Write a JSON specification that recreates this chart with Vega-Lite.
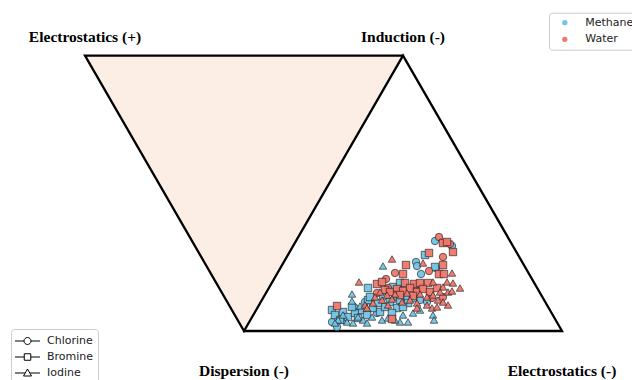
{
  "$schema": "https://vega.github.io/schema/vega-lite/v6.json",
  "width": 632,
  "height": 380,
  "autosize": {"type": "none"},
  "padding": 0,
  "background": "white",
  "config": {"view": {"stroke": null}},
  "datasets": {
    "vertices": [
      {"label": "Electrostatics (+)", "x": -0.5, "y": 0.866, "side": "top"},
      {"label": "Induction (-)", "x": 0.5, "y": 0.866, "side": "top"},
      {"label": "Dispersion (-)", "x": 0, "y": 0, "side": "bottom"},
      {"label": "Electrostatics (-)", "x": 1, "y": 0, "side": "bottom"}
    ],
    "outline": [
      {"step": 1, "x": 0.5, "y": 0.866},
      {"step": 2, "x": -0.5, "y": 0.866},
      {"step": 3, "x": 0, "y": 0},
      {"step": 4, "x": 0.5, "y": 0.866},
      {"step": 5, "x": 1, "y": 0},
      {"step": 6, "x": 0, "y": 0}
    ],
    "shade": [
      {"x": -0.5, "y": 0.866, "top": 0.866},
      {"x": 0, "y": 0, "top": 0.866},
      {"x": 0.5, "y": 0.866, "top": 0.866}
    ],
    "points": [
      {"solvent": "Methane", "halogen": "Chlorine", "x": 0.6006, "y": 0.2830},
      {"solvent": "Methane", "halogen": "Chlorine", "x": 0.6541, "y": 0.2673},
      {"solvent": "Methane", "halogen": "Chlorine", "x": 0.5409, "y": 0.2170},
      {"solvent": "Methane", "halogen": "Chlorine", "x": 0.5440, "y": 0.2044},
      {"solvent": "Methane", "halogen": "Chlorine", "x": 0.5566, "y": 0.1792},
      {"solvent": "Methane", "halogen": "Chlorine", "x": 0.6038, "y": 0.1981},
      {"solvent": "Methane", "halogen": "Chlorine", "x": 0.2767, "y": 0.0283},
      {"solvent": "Methane", "halogen": "Chlorine", "x": 0.2925, "y": 0.0126},
      {"solvent": "Methane", "halogen": "Chlorine", "x": 0.3491, "y": 0.0723},
      {"solvent": "Methane", "halogen": "Chlorine", "x": 0.4371, "y": 0.1069},
      {"solvent": "Methane", "halogen": "Chlorine", "x": 0.5126, "y": 0.1038},
      {"solvent": "Methane", "halogen": "Chlorine", "x": 0.4811, "y": 0.1069},
      {"solvent": "Methane", "halogen": "Chlorine", "x": 0.3176, "y": 0.0346},
      {"solvent": "Methane", "halogen": "Chlorine", "x": 0.4182, "y": 0.0566},
      {"solvent": "Methane", "halogen": "Chlorine", "x": 0.5535, "y": 0.0975},
      {"solvent": "Methane", "halogen": "Chlorine", "x": 0.5755, "y": 0.0912},
      {"solvent": "Methane", "halogen": "Chlorine", "x": 0.3805, "y": 0.0912},
      {"solvent": "Methane", "halogen": "Bromine", "x": 0.5692, "y": 0.2390},
      {"solvent": "Methane", "halogen": "Bromine", "x": 0.6006, "y": 0.2013},
      {"solvent": "Methane", "halogen": "Bromine", "x": 0.3899, "y": 0.1352},
      {"solvent": "Methane", "halogen": "Bromine", "x": 0.4686, "y": 0.1384},
      {"solvent": "Methane", "halogen": "Bromine", "x": 0.4906, "y": 0.1509},
      {"solvent": "Methane", "halogen": "Bromine", "x": 0.2767, "y": 0.0660},
      {"solvent": "Methane", "halogen": "Bromine", "x": 0.2862, "y": 0.0503},
      {"solvent": "Methane", "halogen": "Bromine", "x": 0.3113, "y": 0.0597},
      {"solvent": "Methane", "halogen": "Bromine", "x": 0.3270, "y": 0.0440},
      {"solvent": "Methane", "halogen": "Bromine", "x": 0.3491, "y": 0.0566},
      {"solvent": "Methane", "halogen": "Bromine", "x": 0.3585, "y": 0.0409},
      {"solvent": "Methane", "halogen": "Bromine", "x": 0.3711, "y": 0.0660},
      {"solvent": "Methane", "halogen": "Bromine", "x": 0.3899, "y": 0.0975},
      {"solvent": "Methane", "halogen": "Bromine", "x": 0.4057, "y": 0.0723},
      {"solvent": "Methane", "halogen": "Bromine", "x": 0.4277, "y": 0.0597},
      {"solvent": "Methane", "halogen": "Bromine", "x": 0.4434, "y": 0.0755},
      {"solvent": "Methane", "halogen": "Bromine", "x": 0.4591, "y": 0.0912},
      {"solvent": "Methane", "halogen": "Bromine", "x": 0.4811, "y": 0.0723},
      {"solvent": "Methane", "halogen": "Bromine", "x": 0.4906, "y": 0.0975},
      {"solvent": "Methane", "halogen": "Bromine", "x": 0.5157, "y": 0.0881},
      {"solvent": "Methane", "halogen": "Bromine", "x": 0.3868, "y": 0.0503},
      {"solvent": "Methane", "halogen": "Bromine", "x": 0.3962, "y": 0.1069},
      {"solvent": "Methane", "halogen": "Bromine", "x": 0.4214, "y": 0.0881},
      {"solvent": "Methane", "halogen": "Bromine", "x": 0.3019, "y": 0.0346},
      {"solvent": "Methane", "halogen": "Bromine", "x": 0.3396, "y": 0.0755},
      {"solvent": "Methane", "halogen": "Bromine", "x": 0.5000, "y": 0.0755},
      {"solvent": "Methane", "halogen": "Bromine", "x": 0.4654, "y": 0.0566},
      {"solvent": "Methane", "halogen": "Bromine", "x": 0.5314, "y": 0.1038},
      {"solvent": "Methane", "halogen": "Iodine", "x": 0.4371, "y": 0.2044},
      {"solvent": "Methane", "halogen": "Iodine", "x": 0.3396, "y": 0.1164},
      {"solvent": "Methane", "halogen": "Iodine", "x": 0.2956, "y": 0.0346},
      {"solvent": "Methane", "halogen": "Iodine", "x": 0.3239, "y": 0.0283},
      {"solvent": "Methane", "halogen": "Iodine", "x": 0.3428, "y": 0.0252},
      {"solvent": "Methane", "halogen": "Iodine", "x": 0.3742, "y": 0.0346},
      {"solvent": "Methane", "halogen": "Iodine", "x": 0.3868, "y": 0.0252},
      {"solvent": "Methane", "halogen": "Iodine", "x": 0.4025, "y": 0.0440},
      {"solvent": "Methane", "halogen": "Iodine", "x": 0.4528, "y": 0.0409},
      {"solvent": "Methane", "halogen": "Iodine", "x": 0.5000, "y": 0.0503},
      {"solvent": "Methane", "halogen": "Iodine", "x": 0.5157, "y": 0.0283},
      {"solvent": "Methane", "halogen": "Iodine", "x": 0.4906, "y": 0.0283},
      {"solvent": "Methane", "halogen": "Iodine", "x": 0.5943, "y": 0.0503},
      {"solvent": "Methane", "halogen": "Iodine", "x": 0.5975, "y": 0.0346},
      {"solvent": "Methane", "halogen": "Iodine", "x": 0.3396, "y": 0.0943},
      {"solvent": "Methane", "halogen": "Iodine", "x": 0.3585, "y": 0.0440},
      {"solvent": "Methane", "halogen": "Iodine", "x": 0.4340, "y": 0.0346},
      {"solvent": "Methane", "halogen": "Iodine", "x": 0.3113, "y": 0.0503},
      {"solvent": "Methane", "halogen": "Iodine", "x": 0.4748, "y": 0.0346},
      {"solvent": "Methane", "halogen": "Iodine", "x": 0.5314, "y": 0.0566},
      {"solvent": "Methane", "halogen": "Iodine", "x": 0.5535, "y": 0.0660},
      {"solvent": "Methane", "halogen": "Iodine", "x": 0.2862, "y": 0.0252},
      {"solvent": "Methane", "halogen": "Iodine", "x": 0.3648, "y": 0.0786},
      {"solvent": "Water", "halogen": "Chlorine", "x": 0.6132, "y": 0.2956},
      {"solvent": "Water", "halogen": "Chlorine", "x": 0.6478, "y": 0.2736},
      {"solvent": "Water", "halogen": "Chlorine", "x": 0.6258, "y": 0.2327},
      {"solvent": "Water", "halogen": "Chlorine", "x": 0.4748, "y": 0.1824},
      {"solvent": "Water", "halogen": "Chlorine", "x": 0.5818, "y": 0.1887},
      {"solvent": "Water", "halogen": "Chlorine", "x": 0.4465, "y": 0.1635},
      {"solvent": "Water", "halogen": "Chlorine", "x": 0.4182, "y": 0.1195},
      {"solvent": "Water", "halogen": "Chlorine", "x": 0.4528, "y": 0.1352},
      {"solvent": "Water", "halogen": "Chlorine", "x": 0.5377, "y": 0.1384},
      {"solvent": "Water", "halogen": "Chlorine", "x": 0.5912, "y": 0.1038},
      {"solvent": "Water", "halogen": "Chlorine", "x": 0.4906, "y": 0.1226},
      {"solvent": "Water", "halogen": "Chlorine", "x": 0.6258, "y": 0.1069},
      {"solvent": "Water", "halogen": "Bromine", "x": 0.6258, "y": 0.2767},
      {"solvent": "Water", "halogen": "Bromine", "x": 0.6384, "y": 0.2799},
      {"solvent": "Water", "halogen": "Bromine", "x": 0.6572, "y": 0.2484},
      {"solvent": "Water", "halogen": "Bromine", "x": 0.5818, "y": 0.2453},
      {"solvent": "Water", "halogen": "Bromine", "x": 0.5094, "y": 0.2075},
      {"solvent": "Water", "halogen": "Bromine", "x": 0.6258, "y": 0.2075},
      {"solvent": "Water", "halogen": "Bromine", "x": 0.5000, "y": 0.1792},
      {"solvent": "Water", "halogen": "Bromine", "x": 0.6132, "y": 0.1792},
      {"solvent": "Water", "halogen": "Bromine", "x": 0.6289, "y": 0.1792},
      {"solvent": "Water", "halogen": "Bromine", "x": 0.4182, "y": 0.1478},
      {"solvent": "Water", "halogen": "Bromine", "x": 0.4340, "y": 0.1541},
      {"solvent": "Water", "halogen": "Bromine", "x": 0.5063, "y": 0.1509},
      {"solvent": "Water", "halogen": "Bromine", "x": 0.5346, "y": 0.1478},
      {"solvent": "Water", "halogen": "Bromine", "x": 0.5535, "y": 0.1509},
      {"solvent": "Water", "halogen": "Bromine", "x": 0.5786, "y": 0.1509},
      {"solvent": "Water", "halogen": "Bromine", "x": 0.4434, "y": 0.1289},
      {"solvent": "Water", "halogen": "Bromine", "x": 0.4591, "y": 0.1226},
      {"solvent": "Water", "halogen": "Bromine", "x": 0.4811, "y": 0.1321},
      {"solvent": "Water", "halogen": "Bromine", "x": 0.5000, "y": 0.1258},
      {"solvent": "Water", "halogen": "Bromine", "x": 0.5220, "y": 0.1352},
      {"solvent": "Water", "halogen": "Bromine", "x": 0.5440, "y": 0.1226},
      {"solvent": "Water", "halogen": "Bromine", "x": 0.5629, "y": 0.1321},
      {"solvent": "Water", "halogen": "Bromine", "x": 0.5849, "y": 0.1226},
      {"solvent": "Water", "halogen": "Bromine", "x": 0.6069, "y": 0.1352},
      {"solvent": "Water", "halogen": "Bromine", "x": 0.4906, "y": 0.1132},
      {"solvent": "Water", "halogen": "Bromine", "x": 0.5314, "y": 0.1101},
      {"solvent": "Water", "halogen": "Bromine", "x": 0.2925, "y": 0.0786},
      {"solvent": "Water", "halogen": "Bromine", "x": 0.4654, "y": 0.0377},
      {"solvent": "Water", "halogen": "Iodine", "x": 0.4654, "y": 0.2264},
      {"solvent": "Water", "halogen": "Iodine", "x": 0.5629, "y": 0.2138},
      {"solvent": "Water", "halogen": "Iodine", "x": 0.6541, "y": 0.1824},
      {"solvent": "Water", "halogen": "Iodine", "x": 0.3616, "y": 0.1541},
      {"solvent": "Water", "halogen": "Iodine", "x": 0.5943, "y": 0.1541},
      {"solvent": "Water", "halogen": "Iodine", "x": 0.6384, "y": 0.1541},
      {"solvent": "Water", "halogen": "Iodine", "x": 0.6572, "y": 0.1509},
      {"solvent": "Water", "halogen": "Iodine", "x": 0.6258, "y": 0.1384},
      {"solvent": "Water", "halogen": "Iodine", "x": 0.6792, "y": 0.1352},
      {"solvent": "Water", "halogen": "Iodine", "x": 0.4277, "y": 0.1226},
      {"solvent": "Water", "halogen": "Iodine", "x": 0.4497, "y": 0.1132},
      {"solvent": "Water", "halogen": "Iodine", "x": 0.4748, "y": 0.1164},
      {"solvent": "Water", "halogen": "Iodine", "x": 0.5126, "y": 0.1195},
      {"solvent": "Water", "halogen": "Iodine", "x": 0.5535, "y": 0.1164},
      {"solvent": "Water", "halogen": "Iodine", "x": 0.5755, "y": 0.1069},
      {"solvent": "Water", "halogen": "Iodine", "x": 0.5943, "y": 0.1132},
      {"solvent": "Water", "halogen": "Iodine", "x": 0.6164, "y": 0.1226},
      {"solvent": "Water", "halogen": "Iodine", "x": 0.6415, "y": 0.1226},
      {"solvent": "Water", "halogen": "Iodine", "x": 0.6541, "y": 0.1258},
      {"solvent": "Water", "halogen": "Iodine", "x": 0.4119, "y": 0.1069},
      {"solvent": "Water", "halogen": "Iodine", "x": 0.4340, "y": 0.0975},
      {"solvent": "Water", "halogen": "Iodine", "x": 0.4654, "y": 0.1006},
      {"solvent": "Water", "halogen": "Iodine", "x": 0.4969, "y": 0.0912},
      {"solvent": "Water", "halogen": "Iodine", "x": 0.5220, "y": 0.0975},
      {"solvent": "Water", "halogen": "Iodine", "x": 0.5440, "y": 0.0881},
      {"solvent": "Water", "halogen": "Iodine", "x": 0.5755, "y": 0.0818},
      {"solvent": "Water", "halogen": "Iodine", "x": 0.5912, "y": 0.0723},
      {"solvent": "Water", "halogen": "Iodine", "x": 0.6069, "y": 0.0755},
      {"solvent": "Water", "halogen": "Iodine", "x": 0.6415, "y": 0.0818},
      {"solvent": "Water", "halogen": "Iodine", "x": 0.5440, "y": 0.0723},
      {"solvent": "Water", "halogen": "Iodine", "x": 0.4057, "y": 0.0881},
      {"solvent": "Water", "halogen": "Iodine", "x": 0.3805, "y": 0.0818},
      {"solvent": "Water", "halogen": "Iodine", "x": 0.4528, "y": 0.0818},
      {"solvent": "Water", "halogen": "Iodine", "x": 0.6101, "y": 0.0975},
      {"solvent": "Water", "halogen": "Iodine", "x": 0.6258, "y": 0.0912},
      {"solvent": "Water", "halogen": "Iodine", "x": 0.3868, "y": 0.0723}
    ]
  },
  "resolve": {"scale": {"shape": "independent"}, "legend": {"shape": "independent"}},
  "layer": [
    {
      "data": {"name": "shade"},
      "mark": {"type": "area", "color": "#fdeee5", "opacity": 1},
      "encoding": {
        "x": {"field": "x", "type": "quantitative", "scale": {"domain": [-0.7673, 1.2201], "nice": false, "zero": false}, "axis": null},
        "y": {"field": "y", "type": "quantitative", "scale": {"domain": [-0.1541, 1.0409], "nice": false, "zero": false}, "axis": null},
        "y2": {"field": "top"}
      }
    },
    {
      "data": {"name": "outline"},
      "mark": {"type": "line", "color": "black", "strokeWidth": 2.3, "strokeJoin": "miter", "strokeCap": "square"},
      "encoding": {
        "x": {"field": "x", "type": "quantitative"},
        "y": {"field": "y", "type": "quantitative"},
        "order": {"field": "step", "type": "quantitative"}
      }
    },
    {
      "data": {"name": "points"},
      "mark": {"type": "point", "filled": true, "fill": "white", "stroke": "black", "strokeWidth": 1, "size": 0, "opacity": 1},
      "encoding": {
        "x": {"field": "x", "type": "quantitative"},
        "y": {"field": "y", "type": "quantitative"},
        "shape": {
          "field": "halogen", "type": "nominal",
          "scale": {
            "domain": ["Chlorine", "Bromine", "Iodine"],
            "range": [
              "M-1,0H-0.28M0.28,0H1M0.28,0A0.28,0.28,0,1,1,-0.28,0A0.28,0.28,0,1,1,0.28,0Z",
              "M-1,0H-0.26M0.26,0H1M-0.26,-0.26H0.26V0.26H-0.26Z",
              "M-1,0H-0.2M0.2,0H1M0,-0.32L0.32,0.24L-0.32,0.24Z"
            ]
          },
          "legend": {
            "title": null, "orient": "none", "legendX": 11, "legendY": 329,
            "symbolSize": 625, "symbolStrokeWidth": 1, "symbolOpacity": 1,
            "symbolFillColor": "white", "symbolStrokeColor": "black",
            "labelFont": "DejaVu Sans", "labelFontSize": 11, "labelColor": "#222222",
            "padding": 4, "rowPadding": 0, "clipHeight": 16, "symbolOffset": -0.5, "labelOffset": 6.5,
            "fillColor": "white", "strokeColor": "#cccccc", "cornerRadius": 3,
            "encoding": {
              "symbols": {
                "size": {"value": 625},
                "opacity": {"value": 1},
                "fill": {"value": "white"},
                "stroke": {"value": "black"},
                "strokeWidth": {"value": 1}
              }
            }
          }
        }
      }
    },
    {
      "data": {"name": "points"},
      "mark": {"type": "point", "filled": true, "size": 55, "stroke": "#222222", "strokeWidth": 0.7, "opacity": 0.95},
      "encoding": {
        "x": {"field": "x", "type": "quantitative"},
        "y": {"field": "y", "type": "quantitative"},
        "color": {
          "field": "solvent", "type": "nominal",
          "scale": {"domain": ["Methane", "Water"], "range": ["#72c5e5", "#f3766b"]},
          "legend": {
            "title": null, "orient": "none", "legendX": 549, "legendY": 12.7,
            "symbolType": "circle", "symbolSize": 28, "symbolStrokeWidth": 0, "symbolOpacity": 1,
            "labelFont": "DejaVu Sans", "labelFontSize": 11, "labelColor": "#222222",
            "padding": 4.5, "rowPadding": 4.6, "symbolOffset": 5.8, "labelOffset": 15,
            "fillColor": "white", "strokeColor": "#cccccc", "cornerRadius": 3
          }
        },
        "shape": {
          "field": "halogen", "type": "nominal",
          "scale": {"domain": ["Chlorine", "Bromine", "Iodine"], "range": ["circle", "square", "triangle-up"]},
          "legend": null
        }
      }
    },
    {
      "data": {"name": "vertices"},
      "transform": [{"filter": "datum.side === 'top'"}],
      "mark": {"type": "text", "font": "Liberation Serif", "fontWeight": "bold", "fontSize": 15.5, "color": "black", "align": "center", "baseline": "alphabetic", "dy": -13.3},
      "encoding": {
        "x": {"field": "x", "type": "quantitative"},
        "y": {"field": "y", "type": "quantitative"},
        "text": {"field": "label"}
      }
    },
    {
      "data": {"name": "vertices"},
      "transform": [{"filter": "datum.side === 'bottom'"}],
      "mark": {"type": "text", "font": "Liberation Serif", "fontWeight": "bold", "fontSize": 15.5, "color": "black", "align": "center", "baseline": "alphabetic", "dy": 45},
      "encoding": {
        "x": {"field": "x", "type": "quantitative"},
        "y": {"field": "y", "type": "quantitative"},
        "text": {"field": "label"}
      }
    }
  ]
}
